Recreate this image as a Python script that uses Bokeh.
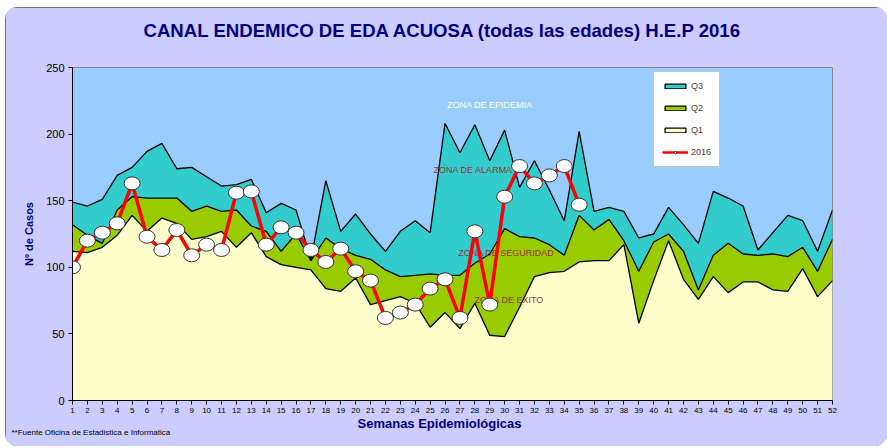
from bokeh.plotting import figure
from bokeh.models import Range1d, Legend, LegendItem, FixedTicker, Title
from bokeh.core.properties import value
from bokeh.embed import file_html
from bokeh.resources import INLINE

weeks = list(range(1, 53))
q1 = [112, 111, 115, 124, 139, 127, 137, 133, 121, 123, 127, 115, 126, 108, 102, 100, 98, 84,
      82, 92, 72, 75, 78, 73, 55, 66, 54, 73, 49, 48, 70, 93, 96, 97, 104, 105,
      105, 117, 58, 90, 120, 91, 76, 93, 81, 89, 89, 83, 82, 99, 78, 90]
q2 = [132, 124, 118, 143, 153, 152, 152, 152, 142, 146, 142, 143, 131, 127, 112, 125, 105, 122,
      114, 109, 106, 98, 93, 94, 95, 94, 94, 103, 110, 129, 123, 122, 117, 109, 139, 128,
      136, 120, 97, 119, 125, 112, 83, 109, 118, 110, 109, 110, 108, 115, 97, 121]
q3 = [149, 146, 151, 169, 175, 187, 193, 174, 175, 168, 161, 162, 166, 141, 148, 143, 106, 165,
      127, 140, 125, 112, 127, 135, 126, 208, 186, 207, 180, 203, 160, 180, 158, 135, 202, 142,
      145, 142, 122, 125, 145, 132, 118, 157, 152, 146, 113, 126, 139, 135, 112, 143]
cases_2016 = [100, 120, 126, 133, 163, 123, 113, 128, 109, 117, 113, 156, 157, 117, 130, 126, 113, 104,
              114, 97, 90, 62, 66, 72, 84, 91, 62, 127, 72, 153, 176, 163, 169, 176, 147]
weeks_2016 = weeks[:len(cases_2016)]
y_ticks = [0, 50, 100, 150, 200, 250]

FONT = "Liberation Sans"
NAVY = "#000080"
BG = "#CCCCFF"

p = figure(width=882, height=439, x_range=Range1d(1, 52), y_range=Range1d(0, 250),
           output_backend="svg", toolbar_location=None,
           background_fill_color="#99CCFF", border_fill_color=BG,
           min_border_left=67, min_border_right=55, min_border_top=60, min_border_bottom=46)
p.outline_line_color = "#888888"
p.xgrid.visible = False
p.ygrid.visible = False
p.title.text = ""

# title, kept off the frame by a blank spacer line
spacer = Title(text="_", text_color=BG, text_font_size="8px", standoff=16)
p.add_layout(spacer, "above")
main_title = Title(text="CANAL  ENDEMICO DE EDA ACUOSA (todas las edades) H.E.P 2016",
                   align="left", offset=71, standoff=0, text_font=FONT, text_font_size="18.6px",
                   text_font_style="bold", text_color=NAVY)
p.add_layout(main_title, "above")

# areas
p.varea(x=weeks, y1=[0] * len(weeks), y2=q1, fill_color="#FFFFCC")
p.varea(x=weeks, y1=q1, y2=q2, fill_color="#99CC00")
p.varea(x=weeks, y1=q2, y2=q3, fill_color="#33CCCC")
for s in (q1, q2, q3):
    p.line(weeks, s, line_color="black", line_width=1.3)

# zone labels (under the 2016 series)
zone_col = "#993333"
p.text(x=[29], y=[222], text=["ZONA DE EPIDEMIA"], text_font=value(FONT), text_font_size="9px",
       text_color="#FFFFDD", text_align="center", text_baseline="middle")
p.text(x=[27.9], y=[173], text=["ZONA DE ALARMA"], text_font=value(FONT), text_font_size="9px",
       text_color=zone_col, text_align="center", text_baseline="middle")
p.text(x=[30.1], y=[111], text=["ZONA DE SEGURIDAD"], text_font=value(FONT), text_font_size="9px",
       text_color=zone_col, text_align="center", text_baseline="middle")
p.text(x=[30.3], y=[75.5], text=["ZONA DE EXITO"], text_font=value(FONT), text_font_size="9px",
       text_color=zone_col, text_align="center", text_baseline="middle")

# 2016 series
p.line(weeks_2016, cases_2016, line_color="#FF0000", line_width=3.5)
p.ellipse(x=weeks_2016, y=cases_2016, width=16, height=13, width_units="screen", height_units="screen",
          fill_color="white", line_color="#333333", line_width=1)

# legend dummies (placed outside the visible range)
off = dict(left=[-20], right=[-19], top=[-20], bottom=[-21])
r_q3 = p.quad(**off, fill_color="#33CCCC", line_color="black", line_width=1.3)
r_q2 = p.quad(**off, fill_color="#99CC00", line_color="black", line_width=1.3)
r_q1 = p.quad(**off, fill_color="#FFFFCC", line_color="black", line_width=1.3)
r_l = p.line([-20, -19], [-20, -20], line_color="#FF0000", line_width=2.5)
r_m = p.scatter([-20], [-20], size=5, fill_color="white", line_color="#333333")
legend = Legend(items=[LegendItem(label="Q3", renderers=[r_q3]),
                       LegendItem(label="Q2", renderers=[r_q2]),
                       LegendItem(label="Q1", renderers=[r_q1]),
                       LegendItem(label="2016", renderers=[r_l, r_m])],
                location=(581, 233), glyph_width=26, glyph_height=6, label_height=12,
                spacing=10, padding=8, margin=0, label_standoff=3,
                label_text_font=FONT, label_text_font_size="9px", label_text_color="#444444",
                border_line_color="#888888", background_fill_color="white", background_fill_alpha=1)
p.add_layout(legend)

# axes
p.xaxis.ticker = FixedTicker(ticks=weeks)
p.yaxis.ticker = FixedTicker(ticks=y_ticks)
for ax in (p.xaxis, p.yaxis):
    ax.axis_line_color = "black"
    ax.major_tick_line_color = "black"
    ax.major_tick_out = 4
    ax.major_tick_in = 0
    ax.minor_tick_line_color = None
    ax.major_label_text_font = FONT
    ax.major_label_text_color = "black"
p.xaxis.major_label_text_font_size = "8px"
p.xaxis.major_label_standoff = 3
p.yaxis.major_label_text_font_size = "11px"
p.yaxis.major_label_standoff = 4
p.yaxis.axis_label = "Nº de Casos"
p.yaxis.axis_label_text_font = FONT
p.yaxis.axis_label_text_font_size = "11px"
p.yaxis.axis_label_text_font_style = "bold"
p.yaxis.axis_label_text_color = NAVY
p.yaxis.axis_label_standoff = 8

xlab = Title(text="Semanas Epidemiológicas", align="left", offset=285, standoff=-4,
             text_font=FONT, text_font_size="13px", text_font_style="bold", text_color=NAVY)
p.add_layout(xlab, "below")
foot = Title(text="**Fuente Oficina de Estadistica e Informatica", align="left", offset=-61, standoff=-6,
             text_font=FONT, text_font_size="8px", text_font_style="normal", text_color="black")
p.add_layout(foot, "below")

p.styles = {"margin": "7px 0px 0px 5px", "border-radius": "12px", "overflow": "hidden",
            "outline": "1px solid #555555", "outline-offset": "-1px"}

open("out.html", "w").write(file_html(p, INLINE))
